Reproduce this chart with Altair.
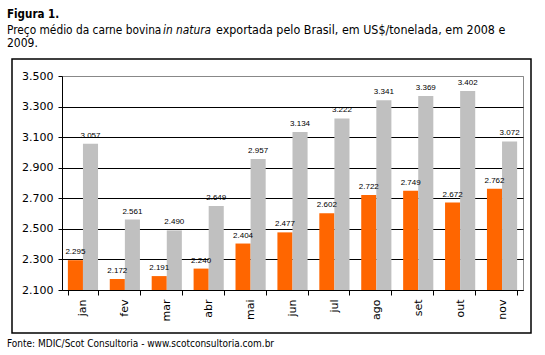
import altair as alt
import pandas as pd

months = ["jan", "fev", "mar", "abr", "mai", "jun", "jul", "ago", "set", "out", "nov"]
v2008 = [2295, 2172, 2191, 2240, 2404, 2477, 2602, 2722, 2749, 2672, 2762]
v2009 = [3057, 2561, 2490, 2649, 2957, 3134, 3222, 3341, 3369, 3402, 3072]
years = ["2008", "2009"]
colors = ["#FF6600", "#C0C0C0"]
y_ticks = [2100, 2300, 2500, 2700, 2900, 3100, 3300, 3500]

title_txt = "Figura 1."
sub_a = "Preço médio da carne bovina"
sub_b = "in natura"
sub_c = "exportada pelo Brasil, em US$/tonelada, em 2008 e"
sub_d = "2009."
source_txt = "Fonte: MDIC/Scot Consultoria - www.scotconsultoria.com.br"

rows = []
for m, a, b in zip(months, v2008, v2009):
    rows.append({"mes": m, "ano": years[0], "valor": a})
    rows.append({"mes": m, "ano": years[1], "valor": b})
df = pd.DataFrame(rows)
df["rotulo"] = df["valor"].map(lambda v: f"{v:,}".replace(",", "."))

W, H = 461, 214
PL, PT = 62, 76

xenc = alt.X(
    "mes:N", sort=months,
    scale=alt.Scale(paddingInner=0.28, paddingOuter=0.14),
    axis=alt.Axis(title=None, labelAngle=270, tickBand="extent", tickSize=5,
                  labelPadding=4, labelFont="DejaVu Sans", labelFontSize=11,
                  labelColor="#000000", domainColor="#000000", tickColor="#000000",
                  grid=False, labelOverlap=False),
)
yenc = alt.Y(
    "valor:Q",
    scale=alt.Scale(domain=[2100, 3500], zero=False, nice=False),
    axis=alt.Axis(title=None, values=y_ticks, tickCount=len(y_ticks),
                  labelExpr="replace(format(datum.value, ','), ',', '.')",
                  tickSize=4, labelPadding=5, labelFont="DejaVu Sans", labelFontSize=11,
                  labelColor="#000000", domainColor="#000000", tickColor="#000000",
                  labelOverlap=False, labelFlush=False,
                  grid=True,
                  gridColor={"condition": {"test": "datum.value == 3500", "value": "#888888"},
                             "value": "#000000"}),
)
xoff = alt.XOffset("ano:N", sort=years, scale=alt.Scale(paddingInner=0))

bars = alt.Chart(df).mark_bar().encode(
    x=xenc, y=yenc, y2=alt.datum(2100), xOffset=xoff,
    color=alt.Color("ano:N", scale=alt.Scale(domain=years, range=colors), legend=None),
)
labels = alt.Chart(df).mark_text(
    baseline="bottom", dy=-4, font="Liberation Sans", fontSize=8, color="#000000"
).encode(x=alt.X("mes:N", sort=months), y="valor:Q", xOffset=xoff, text="rotulo:N")


def txt(s, x, y, size=12, weight="normal", style="normal"):
    return alt.Chart(pd.DataFrame({"t": [s]})).mark_text(
        align="left", baseline="alphabetic", font="DejaVu Sans Condensed",
        fontSize=size, fontWeight=weight, fontStyle=style, color="#000000"
    ).encode(x=alt.value(x - PL), y=alt.value(y - PT), text="t:N")


box = alt.Chart(pd.DataFrame({"a": [0]})).mark_rect(
    fillOpacity=0, stroke="#000000", strokeWidth=1.5
).encode(x=alt.value(12 - PL), x2=alt.value(531 - PL), y=alt.value(59 - PT), y2=alt.value(333 - PT))

chart = alt.layer(
    bars, labels, box,
    txt(title_txt, 7, 18, size=11.5, weight="bold"),
    txt(sub_a, 7, 34, size=11.8),
    txt(sub_b, 163, 34, size=11.8, style="italic"),
    txt(sub_c, 216, 34, size=12.4),
    txt(sub_d, 7, 47, size=12),
    txt(source_txt, 7, 347, size=10),
).properties(
    width=W, height=H,
    autosize=alt.AutoSizeParams(type="none"),
    padding={"left": PL, "top": PT, "right": 545 - PL - W, "bottom": 355 - PT - H},
    background="#FFFFFF",
).configure_view(stroke="#888888", strokeWidth=1)

chart.save("out.html", embed_options={"renderer": "svg", "actions": False})
